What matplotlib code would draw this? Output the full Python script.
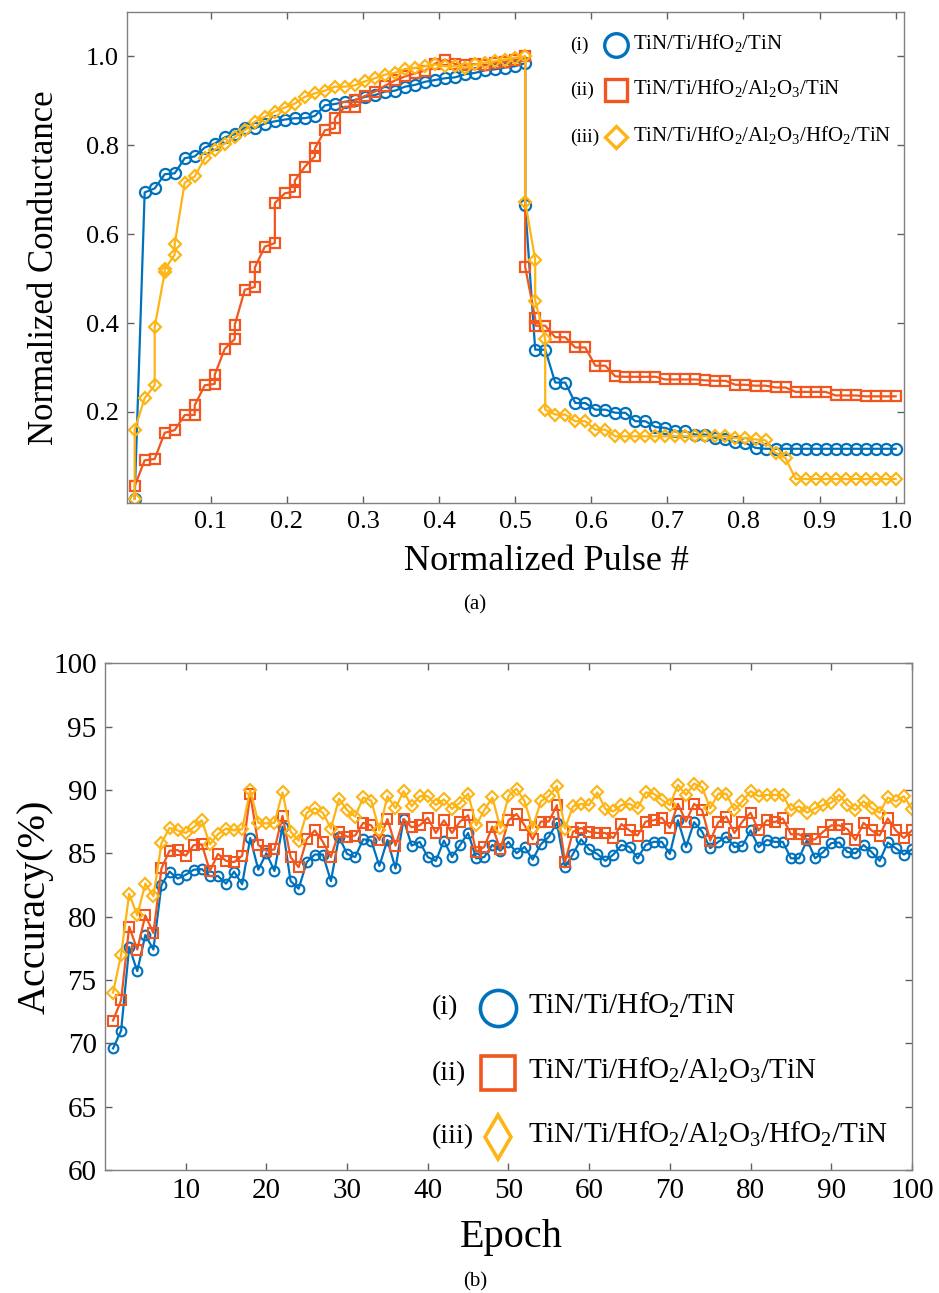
import numpy as np
import matplotlib
matplotlib.use("Agg")
import matplotlib.pyplot as plt

plt.rcParams['font.family'] = 'serif'
plt.rcParams['font.serif'] = ['Liberation Serif', 'DejaVu Serif']
plt.rcParams['mathtext.fontset'] = 'custom'
plt.rcParams['mathtext.rm'] = 'Liberation Serif'
plt.rcParams['mathtext.it'] = 'Liberation Serif:italic'

# colours of the three stacks
c_blue = '#0072BD'
c_orange = '#F0561D'
c_yellow = '#FDB414'

labels = [r'TiN/Ti/HfO$_2$/TiN',
          r'TiN/Ti/HfO$_2$/Al$_2$O$_3$/TiN',
          r'TiN/Ti/HfO$_2$/Al$_2$O$_3$/HfO$_2$/TiN']
tags = ['(i)', '(ii)', '(iii)']

# ---- (a) conductance vs pulse number (pulse index, 77 pulses total) ----
n_pulse = 77

pulse_i = list(range(0, 40)) + list(range(39, 77))
g_i = [0.005, 0.694, 0.703, 0.735, 0.737, 0.771, 0.775, 0.795, 0.804, 0.818,
       0.825, 0.840, 0.838, 0.849, 0.854, 0.858, 0.861, 0.861, 0.866, 0.890,
       0.893, 0.898, 0.902, 0.909, 0.913, 0.921, 0.923, 0.932, 0.936, 0.943,
       0.947, 0.951, 0.953, 0.960, 0.963, 0.969, 0.971, 0.975, 0.978, 0.985,
       0.665, 0.340, 0.340, 0.266, 0.266, 0.220, 0.220, 0.205, 0.205, 0.198,
       0.198, 0.179, 0.179, 0.166, 0.164, 0.156, 0.156, 0.149, 0.149, 0.141,
       0.138, 0.132, 0.130, 0.119, 0.117, 0.117, 0.117, 0.117, 0.117, 0.117,
       0.117, 0.117, 0.117, 0.117, 0.117, 0.117, 0.117, 0.117]

pulse_ii = [0, 1, 2, 3, 4, 5, 6, 6, 7, 8, 8, 9, 10, 10, 11, 12, 12, 13, 14, 14,
            15, 16, 16, 17, 18, 18, 19, 20, 20, 21, 22, 22, 23, 24, 25, 26, 27,
            28, 29, 30, 31, 32, 33, 34, 35, 36, 37, 38, 39,
            39, 40, 40, 41, 42, 43, 44, 45, 46, 47, 48, 49, 50, 51, 52, 53, 54,
            55, 56, 57, 58, 59, 60, 61, 62, 63, 64, 65, 66, 67, 68, 69, 70, 71,
            72, 73, 74, 75, 76]
g_ii = [0.033, 0.091, 0.094, 0.153, 0.159, 0.193, 0.193, 0.215, 0.260, 0.263,
        0.284, 0.342, 0.364, 0.396, 0.475, 0.481, 0.525, 0.572, 0.580, 0.670,
        0.692, 0.696, 0.721, 0.752, 0.775, 0.793, 0.834, 0.838, 0.861, 0.887,
        0.887, 0.902, 0.911, 0.921, 0.934, 0.946, 0.955, 0.962, 0.968, 0.984,
        0.993, 0.983, 0.980, 0.983, 0.980, 0.985, 0.988, 0.992, 1.000,
        0.526, 0.411, 0.394, 0.394, 0.368, 0.368, 0.345, 0.345, 0.304, 0.304,
        0.280, 0.279, 0.279, 0.279, 0.279, 0.273, 0.273, 0.273, 0.273, 0.271,
        0.270, 0.270, 0.261, 0.261, 0.259, 0.259, 0.255, 0.255, 0.245, 0.245,
        0.245, 0.245, 0.237, 0.237, 0.237, 0.235, 0.235, 0.235, 0.235]

pulse_iii = [0, 0, 1, 2, 2, 3, 3, 4, 4, 5, 6, 7, 8, 9, 10, 11, 12, 13, 14, 15,
             16, 17, 18, 19, 20, 21, 22, 23, 24, 25, 26, 27, 28, 29, 30, 31, 32,
             33, 34, 35, 36, 37, 38, 39,
             39, 40, 40, 41, 41, 42, 43, 44, 45, 46, 47, 48, 49, 50, 51, 52, 53,
             54, 55, 56, 57, 58, 59, 60, 61, 62, 63, 64, 65, 66, 67, 68, 69, 70,
             71, 72, 73, 74, 75, 76]
g_iii = [0.004, 0.160, 0.231, 0.260, 0.391, 0.514, 0.521, 0.554, 0.578, 0.716,
         0.730, 0.771, 0.790, 0.804, 0.818, 0.834, 0.853, 0.864, 0.876, 0.885,
         0.894, 0.909, 0.917, 0.923, 0.932, 0.932, 0.935, 0.944, 0.951, 0.959,
         0.963, 0.972, 0.974, 0.978, 0.982, 0.978, 0.978, 0.974, 0.982, 0.986,
         0.989, 0.993, 0.997, 1.000,
         0.673, 0.542, 0.450, 0.364, 0.205, 0.194, 0.194, 0.179, 0.179, 0.160,
         0.160, 0.145, 0.145, 0.145, 0.145, 0.145, 0.145, 0.145, 0.145, 0.145,
         0.145, 0.145, 0.145, 0.141, 0.141, 0.138, 0.136, 0.108, 0.096, 0.049,
         0.049, 0.049, 0.049, 0.049, 0.049, 0.049, 0.049, 0.049, 0.049, 0.049]

# ---- (b) accuracy vs epoch ----
epochs = np.arange(1, 101)
acc_i = [69.6, 71.0, 77.6, 75.7, 78.55, 77.4, 82.5, 83.55, 83.0, 83.3,
         83.7, 83.75, 83.2, 83.2, 82.6, 83.55, 82.55, 86.2, 83.7, 85.0,
         83.6, 87.1, 82.8, 82.2, 84.3, 84.9, 84.9, 82.8, 86.3, 84.95,
         84.7, 86.1, 86.0, 84.0, 86.05, 83.8, 87.7, 85.6, 85.9, 84.7,
         84.4, 86.0, 84.7, 85.65, 86.6, 84.6, 84.7, 85.65, 85.2, 85.9,
         85.0, 85.5, 84.5, 85.7, 86.3, 87.4, 83.9, 84.95, 86.1, 85.3,
         84.95, 84.4, 84.9, 85.65, 85.5, 84.6, 85.65, 85.9, 85.9, 84.95,
         87.6, 85.5, 87.45, 86.7, 85.4, 85.9, 86.3, 85.5, 85.6, 86.8,
         85.5, 86.05, 85.9, 85.9, 84.6, 84.6, 86.05, 84.6, 85.1, 85.8,
         85.85, 85.1, 85.0, 85.65, 85.1, 84.4, 85.85, 85.4, 84.9, 85.3]
acc_ii = [71.8, 73.4, 79.2, 77.4, 80.1, 78.7, 83.8, 85.2, 85.25, 84.8,
          85.65, 85.7, 83.6, 84.95, 84.4, 84.3, 84.8, 89.7, 85.65, 85.2,
          85.3, 87.95, 84.7, 83.9, 86.1, 86.8, 85.9, 84.7, 86.7, 86.3,
          86.4, 87.4, 87.2, 86.05, 87.7, 85.6, 87.7, 87.05, 87.2, 87.8,
          86.6, 87.6, 86.6, 87.5, 88.0, 85.1, 85.5, 87.1, 85.3, 87.6,
          88.1, 87.2, 86.1, 87.5, 87.5, 88.8, 84.3, 86.7, 87.0, 86.7,
          86.6, 86.6, 86.2, 87.3, 86.8, 86.4, 87.5, 87.6, 87.8, 87.0,
          88.9, 87.5, 88.9, 88.4, 86.0, 87.45, 87.9, 86.6, 87.5, 88.2,
          86.8, 87.6, 87.45, 87.75, 86.5, 86.5, 86.1, 86.1, 86.7, 87.2,
          87.2, 86.9, 86.05, 87.4, 86.8, 86.4, 87.75, 86.8, 86.2, 86.8]
acc_iii = [74.0, 77.0, 81.8, 80.1, 82.6, 81.6, 85.8, 87.0, 86.8, 86.6,
           87.05, 87.6, 85.7, 86.5, 86.95, 86.8, 86.9, 90.0, 87.4, 87.35,
           87.4, 89.8, 86.7, 86.0, 88.2, 88.55, 88.2, 86.95, 89.3, 88.4,
           87.9, 89.4, 89.15, 86.8, 89.5, 88.55, 89.9, 88.7, 89.5, 89.5,
           88.8, 89.25, 88.5, 89.0, 89.7, 87.2, 88.4, 89.4, 87.0, 89.5,
           90.1, 89.1, 87.0, 89.1, 89.5, 90.3, 86.95, 88.7, 88.9, 88.8,
           89.8, 88.5, 88.3, 88.8, 88.9, 88.55, 89.8, 89.7, 89.2, 88.8,
           90.4, 89.6, 90.5, 90.2, 88.55, 89.7, 89.7, 88.4, 89.1, 89.9,
           89.5, 89.6, 89.6, 89.6, 88.4, 88.7, 88.2, 88.55, 88.8, 89.0,
           89.6, 88.8, 88.4, 89.1, 88.55, 88.2, 89.4, 89.1, 89.5, 88.5]


def style_axes(ax, size):
    for sp in ax.spines.values():
        sp.set_color('#808080')
        sp.set_linewidth(1.0)
    ax.tick_params(direction='in', top=True, right=True, length=5,
                   width=1.0, color='#606060', labelsize=size, pad=6)


fig = plt.figure(figsize=(9.39, 12.93), dpi=100)

# ---------------- panel (a) ----------------
ax1 = fig.add_axes([0.1353, 0.611, 0.8275, 0.3797])
norm = lambda p: np.array(p) / (n_pulse - 1)
mk = dict(lw=1.6, mew=1.6, mfc='none')
ax1.plot(norm(pulse_i), g_i, '-o', color=c_blue, ms=8, **mk)
ax1.plot(norm(pulse_ii), g_ii, '-s', color=c_orange, ms=7, **mk)
ax1.plot(norm(pulse_iii), g_iii, '-D', color=c_yellow, ms=6, **mk)
ax1.set_xlim(-0.01, 1.011)
ax1.set_ylim(-0.005, 1.1)
ax1.set_xticks(np.arange(0.1, 1.01, 0.1))
ax1.set_xticklabels(['%.1f' % v for v in np.arange(0.1, 1.01, 0.1)])
ax1.set_yticks([0.2, 0.4, 0.6, 0.8, 1.0])
ax1.set_yticklabels(['0.2', '0.4', '0.6', '0.8', '1.0'])
style_axes(ax1, 19)
ax1.set_xlabel('Normalized Pulse #', fontsize=26)
ax1.xaxis.set_label_coords(0.54, -0.12)
ax1.xaxis.label.set_va('center')
ax1.set_ylabel('Normalized Conductance', fontsize=25)
ax1.yaxis.set_label_coords(-0.106, 0.48)
ax1.yaxis.label.set_va('center')

# legend drawn by hand: tag, marker, text
leg_a_y = [0.933, 0.841, 0.745]
leg_a_mk = [('o', 17), ('s', 16), ('D', 11)]
for k, c in enumerate([c_blue, c_orange, c_yellow]):
    y = leg_a_y[k]
    ax1.text(0.570, y, tags[k], transform=ax1.transAxes, fontsize=14,
             ha='left', va='center')
    ax1.plot([0.629], [y], leg_a_mk[k][0], ms=leg_a_mk[k][1], mfc='none',
             mec=c, mew=2.4, transform=ax1.transAxes, clip_on=False)
    ax1.text(0.651, y + 0.004, labels[k], transform=ax1.transAxes,
             fontsize=15, ha='left', va='center')

fig.text(0.506, 0.532, '(a)', fontsize=15, ha='center', va='center')

# ---------------- panel (b) ----------------
ax2 = fig.add_axes([0.1118, 0.0951, 0.8594, 0.392])
mk2 = dict(lw=1.6, mew=1.5, mfc='none')
ax2.plot(epochs, acc_i, '-o', color=c_blue, ms=7, **mk2)
ax2.plot(epochs, acc_ii, '-s', color=c_orange, ms=6.5, **mk2)
ax2.plot(epochs, acc_iii, '-D', color=c_yellow, ms=6, **mk2)
ax2.set_xlim(0, 100)
ax2.set_ylim(60, 100)
ax2.set_xticks(np.arange(10, 101, 10))
ax2.set_yticks(np.arange(60, 101, 5))
style_axes(ax2, 21)
ax2.set_xlabel('Epoch', fontsize=29)
ax2.xaxis.set_label_coords(0.504, -0.134)
ax2.xaxis.label.set_va('center')
ax2.set_ylabel('Accuracy(%)', fontsize=29)
ax2.yaxis.set_label_coords(-0.087, 0.519)
ax2.yaxis.label.set_va('center')

leg_b_y = [0.3195, 0.191, 0.065]
leg_b_mk = [('o', 26), ('s', 24), ('d', 22)]
for k, c in enumerate([c_blue, c_orange, c_yellow]):
    y = leg_b_y[k]
    ax2.text(0.405, y, tags[k], transform=ax2.transAxes, fontsize=20,
             ha='left', va='center')
    ax2.plot([0.487], [y], leg_b_mk[k][0], ms=leg_b_mk[k][1], mfc='none',
             mec=c, mew=2.6, transform=ax2.transAxes, clip_on=False)
    ax2.text(0.524, y + 0.006, labels[k], transform=ax2.transAxes,
             fontsize=21, ha='left', va='center')

fig.text(0.506, 0.0085, '(b)', fontsize=15, ha='center', va='center')

fig.savefig('out.png', dpi=100)
